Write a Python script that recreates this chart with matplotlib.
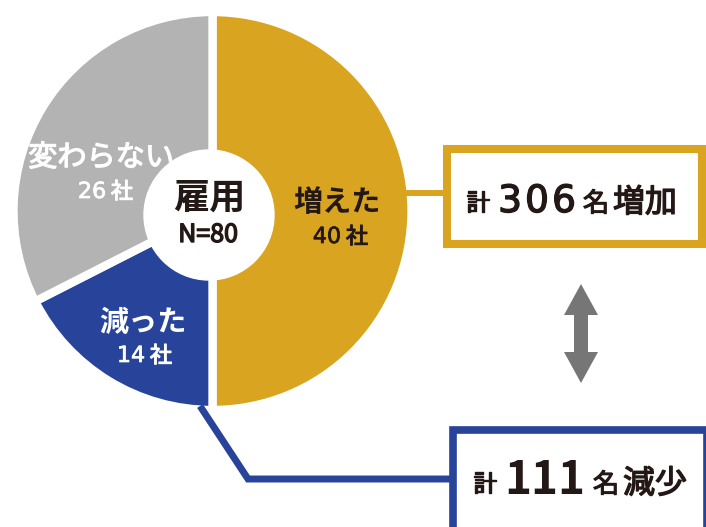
import matplotlib
matplotlib.use("Agg")
import matplotlib.pyplot as plt
import matplotlib.patheffects as pe
from matplotlib.patches import Circle, Rectangle, Polygon

plt.rcParams["font.family"] = ["Noto Sans CJK JP", "DejaVu Sans"]

# 雇用の増減（回答企業数と人数）
categories = ["増えた", "減った", "変わらない"]
companies = [40, 14, 26]
colors = ["#D9A41F", "#27449A", "#B3B3B3"]
label_colors = ["#231815", "white", "white"]
total_label = "雇用"
total_n = sum(companies)
people_up = 306
people_down = 111

W, H = 706, 527
GOLD, BLUE, INK = colors[0], colors[1], "#231815"


def Y(y):
    # 上からのピクセル位置 -> 下から
    return H - y


def med(c, w=0.7):
    # 細めのフォントを少し太らせる
    return [pe.withStroke(linewidth=w, foreground=c)]


fig = plt.figure(figsize=(W / 100, H / 100), dpi=100)
ax = fig.add_axes([0, 0, 1, 1])

# 円グラフ（上から時計回り）
ax.pie(companies, colors=colors, startangle=90, counterclock=False,
       center=(212.5, Y(211)), radius=199,
       wedgeprops=dict(edgecolor="white", linewidth=6))
ax.add_patch(Circle((209, Y(215)), 65, color="white", zorder=3))

# 中央の文字
ax.text(209, Y(198), total_label, ha="center", va="center", fontsize=26,
        fontweight="bold", color=INK, zorder=4)
ax.text(208, Y(235), f"N={total_n}", ha="center", va="center", fontsize=18,
        color=INK, zorder=4, path_effects=med(INK, 1.0))

# 各区分のラベル
name_pos = [(337, 202), (143, 322), (101, 158)]
num_pos = [(337, 237), (141, 356), (102, 192)]
name_weight = ["bold", "bold", "normal"]
for cat, n, c, (nx, ny), (vx, vy), w in zip(categories, companies, label_colors,
                                            name_pos, num_pos, name_weight):
    ax.text(nx, Y(ny), cat, ha="center", va="center", fontsize=21,
            fontweight=w, color=c, zorder=4,
            path_effects=med(c, 0.9) if w == "normal" else None)
    ax.text(vx - 10, Y(vy), str(n), ha="center", va="center", fontsize=16,
            family="DejaVu Sans", color=c, zorder=4, path_effects=med(c, 0.5))
    ax.text(vx + 20, Y(vy), "社", ha="center", va="center", fontsize=16,
            color=c, zorder=4, path_effects=med(c, 0.8))

# 引き出し線
ax.plot([400, 446], [Y(193), Y(193)], color=GOLD, lw=4.3, zorder=1,
        solid_capstyle="butt")
ax.plot([200, 248, 452], [Y(406), Y(479), Y(479)], color=BLUE, lw=5,
        zorder=3, solid_joinstyle="miter", solid_capstyle="butt")

# 増加の枠
ax.add_patch(Rectangle((447, Y(244)), 255, 95, fill=False, ec=GOLD,
                       lw=5.8, joinstyle="miter", zorder=2))
ax.text(478, Y(204), "計", ha="center", va="center", fontsize=17,
        color=INK, path_effects=med(INK, 1.0))
for i, d in enumerate(str(people_up)):
    ax.text(510 + i * 27, Y(202), d, ha="center", va="center", fontsize=27,
            family="DejaVu Sans", color=INK, path_effects=med(INK, 1.0))
ax.text(596, Y(204), "名", ha="center", va="center", fontsize=19,
        color=INK, path_effects=med(INK, 0.8))
ax.text(645, Y(203), "増加", ha="center", va="center", fontsize=23,
        color=INK, path_effects=med(INK, 1.0))

# 減少の枠（右下は切れている）
ax.add_patch(Rectangle((453, Y(531)), 254, 101, fill=False, ec=BLUE,
                       lw=5.5, joinstyle="miter", zorder=2))
ax.text(485, Y(485), "計", ha="center", va="center", fontsize=17,
        color=INK, path_effects=med(INK, 1.0))
ax.text(545, Y(481), str(people_down), ha="center", va="center", fontsize=33,
        fontweight="bold", color=INK)
ax.text(606, Y(485), "名", ha="center", va="center", fontsize=19,
        color=INK, path_effects=med(INK, 0.8))
ax.text(655, Y(484), "減少", ha="center", va="center", fontsize=23,
        color=INK, path_effects=med(INK, 1.0))

# 両向き矢印
cx, top, bot = 581, 284, 383
hw, hl, sw = 17, 31, 7
arrow = [(cx, top), (cx + hw, top + hl), (cx + sw, top + hl),
         (cx + sw, bot - hl), (cx + hw, bot - hl), (cx, bot),
         (cx - hw, bot - hl), (cx - sw, bot - hl), (cx - sw, top + hl),
         (cx - hw, top + hl)]
ax.add_patch(Polygon([(x, Y(y)) for x, y in arrow], closed=True,
                     color="#767676", lw=0))

ax.set_xlim(0, W)
ax.set_ylim(0, H)
ax.set_aspect("equal")
ax.axis("off")

fig.savefig("out.png", dpi=100)
